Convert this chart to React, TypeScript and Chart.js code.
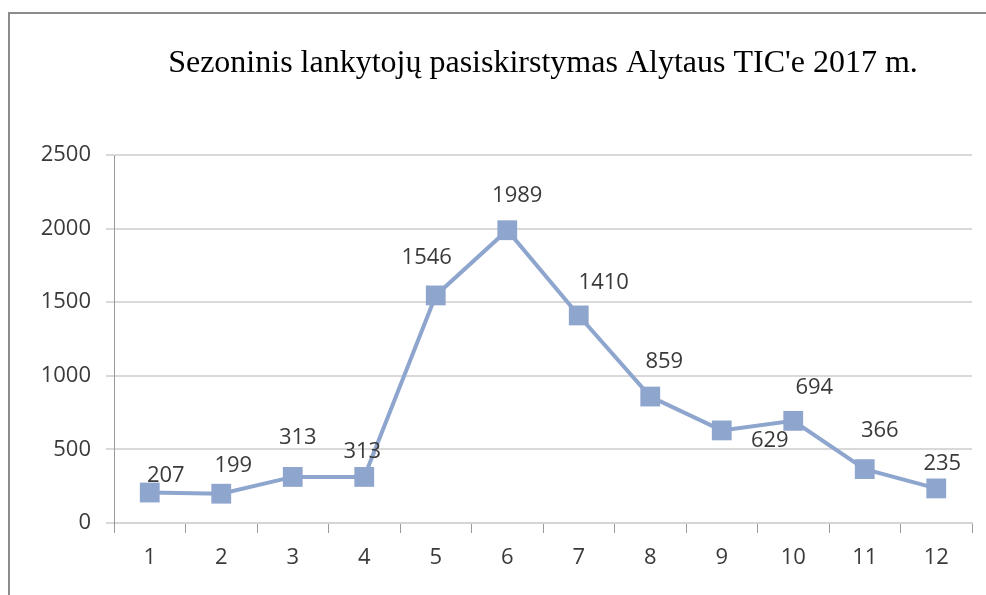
import React, { useEffect, useRef } from "react";
import { Chart, registerables } from "chart.js";

Chart.register(...registerables);

const TITLE = "Sezoninis lankytojų pasiskirstymas Alytaus TIC'e 2017 m.";
const months = ["1", "2", "3", "4", "5", "6", "7", "8", "9", "10", "11", "12"];
const visitors = [207, 199, 313, 313, 1546, 1989, 1410, 859, 629, 694, 366, 235];
const yTicks = [0, 500, 1000, 1500, 2000, 2500];

// label placement offsets (style only), relative to each point
const labelOffsets: [number, number][] = [
  [16, -17], [12, -28], [5, -39], [-2, -25], [-9, -38], [10, -34],
  [25, -33], [14, -35], [48, 10], [21, -33], [15, -38], [6, -25],
];

const LINE_COLOR = "#8EA5CE";
const TEXT_COLOR = "#3a3a3a";
const SANS = "'Open Sans', sans-serif";

export default function App() {
  const ref = useRef<HTMLCanvasElement | null>(null);

  useEffect(() => {
    if (!ref.current) return;

    const framePlugin = {
      id: "frame",
      beforeDraw(chart: any) {
        const ctx = chart.ctx;
        ctx.save();
        ctx.fillStyle = "#ffffff";
        ctx.fillRect(0, 0, chart.width, chart.height);
        ctx.strokeStyle = "#8c8c8c";
        ctx.lineWidth = 2;
        ctx.beginPath();
        ctx.moveTo(9, chart.height);
        ctx.lineTo(9, 13);
        ctx.lineTo(chart.width, 13);
        ctx.stroke();
        ctx.restore();
      },
    };

    const labelPlugin = {
      id: "valueLabels",
      afterDatasetsDraw(chart: any) {
        const ctx = chart.ctx;
        const meta = chart.getDatasetMeta(0);
        ctx.save();
        ctx.font = `22px ${SANS}`;
        ctx.fillStyle = TEXT_COLOR;
        ctx.textAlign = "center";
        ctx.textBaseline = "middle";
        meta.data.forEach((pt: any, i: number) => {
          const [dx, dy] = labelOffsets[i];
          ctx.fillText(String(visitors[i]), pt.x + dx, pt.y + dy);
        });
        ctx.restore();
      },
    };

    const chart = new Chart(ref.current, {
      type: "line",
      data: {
        labels: months,
        datasets: [
          {
            data: visitors,
            borderColor: LINE_COLOR,
            backgroundColor: LINE_COLOR,
            borderWidth: 4,
            pointStyle: "rect",
            pointRadius: 14,
            pointHoverRadius: 14,
            pointBorderWidth: 0,
            tension: 0,
          },
        ],
      },
      options: {
        responsive: false,
        animation: false,
        events: [],
        layout: { padding: { left: 0, right: 14, top: 0, bottom: 0 } },
        plugins: {
          legend: { display: false },
          tooltip: { enabled: false },
          title: {
            display: true,
            text: TITLE,
            fullSize: false,
            color: "#000000",
            font: { family: "'Liberation Serif', serif", size: 32, weight: "normal", lineHeight: 1.2 },
            padding: { top: 44, bottom: 72.6 },
          },
        },
        scales: {
          x: {
            offset: true,
            grid: {
              offset: true,
              drawOnChartArea: false,
              drawTicks: true,
              tickLength: 10,
              color: "#9a9a9a",
              lineWidth: 1,
            },
            border: { display: true, color: "#d4d4d4", width: 2 },
            ticks: {
              color: TEXT_COLOR,
              font: { family: SANS, size: 22 },
              padding: 12,
              maxRotation: 0,
            },
            afterFit(scale: any) {
              scale.height = 72;
            },
          },
          y: {
            min: 0,
            max: 2500,
            afterBuildTicks(scale: any) {
              scale.ticks = yTicks.map((v) => ({ value: v }));
            },
            grid: {
              color: "#d9d9d9",
              lineWidth: 2,
              tickLength: 8,
            },
            border: { display: true, color: "#9a9a9a", width: 1 },
            ticks: {
              color: TEXT_COLOR,
              font: { family: SANS, size: 22 },
              padding: 15,
              callback: (v: any) => String(v),
            },
            afterFit(scale: any) {
              scale.width = 114;
            },
          },
        },
      },
      plugins: [framePlugin, labelPlugin],
    });

    return () => chart.destroy();
  }, []);

  return (
    <canvas
      ref={ref}
      width={986}
      height={595}
      style={{ position: "fixed", left: 0, top: 0, display: "block" }}
    />
  );
}
